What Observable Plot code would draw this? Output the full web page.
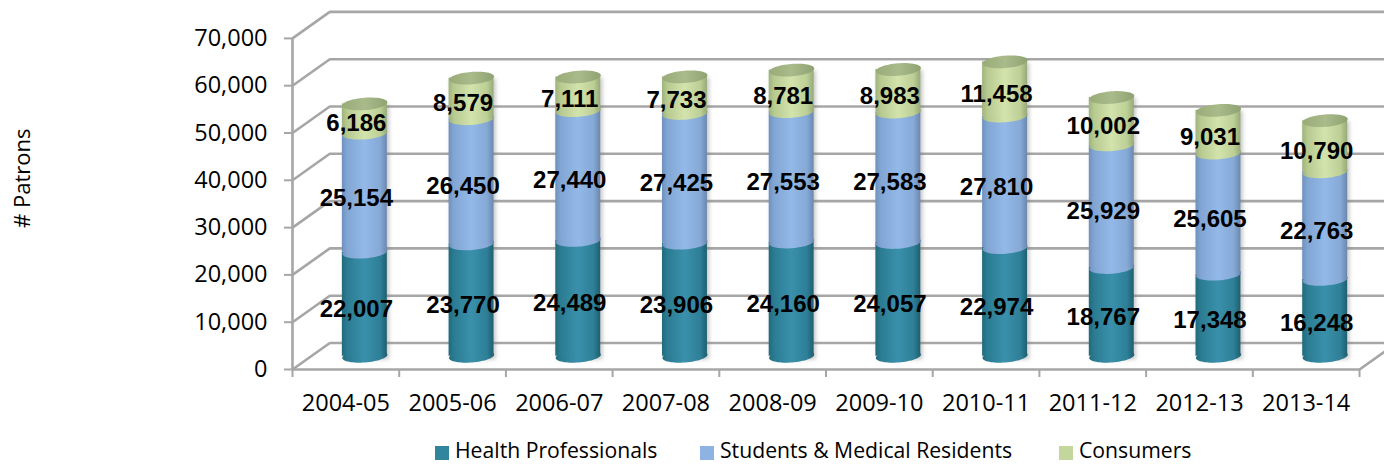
<!DOCTYPE html>
<html>
<head>
<meta charset="utf-8">
<script src="https://cdn.jsdelivr.net/npm/d3@7"></script>
<script src="https://cdn.jsdelivr.net/npm/@observablehq/plot@0.6"></script>
<style>
html,body{margin:0;padding:0;background:#fff;}
#wrap{position:relative;width:1384px;height:464px;overflow:hidden;font-family:"Open Sans",sans-serif;color:#000;}
#wrap svg{display:block;}
.lg{position:absolute;top:435px;height:29px;line-height:29px;font-size:21.2px;white-space:nowrap;}
.sw{position:absolute;top:446px;width:14px;height:14px;}
</style>
</head>
<body>
<div id="wrap"></div>
<script>
const seasons = ["2004-05","2005-06","2006-07","2007-08","2008-09","2009-10","2010-11","2011-12","2012-13","2013-14"];
const health = [22007,23770,24489,23906,24160,24057,22974,18767,17348,16248];
const students = [25154,26450,27440,27425,27553,27583,27810,25929,25605,22763];
const consumers = [6186,8579,7111,7733,8781,8983,11458,10002,9031,10790];
const seriesNames = ["Health Professionals","Students & Medical Residents","Consumers"];
const yTicks = [0,10000,20000,30000,40000,50000,60000,70000];

// 3-D projection expressed in scale units
const depthX = 0.3495, depthY = 5603, xMax = 10.234, yMax = 78013;
const halfW = 0.2105, shiftX = 0.178, shiftY = depthY / 2;
const gradIds = ["gT","gB","gG"];

const rows = seasons.flatMap((s,i) => {
  let base = 0;
  return [health[i],students[i],consumers[i]].map((v,k) => {
    const row = {season:s,i,k,v,y0:base,y1:base+v,cx:i+0.5+shiftX};
    base += v;
    return row;
  });
});
const tops = rows.filter(d => d.k === 2);

const ellipse = {
  draw(ctx){
    const rx=22.6, ry=6.2, a=-4.5*Math.PI/180, n=64;
    for(let t=0;t<=n;t++){
      const u=t/n*2*Math.PI, ex=rx*Math.cos(u), ey=ry*Math.sin(u);
      const X=ex*Math.cos(a)-ey*Math.sin(a), Y=ex*Math.sin(a)+ey*Math.cos(a);
      t?ctx.lineTo(X,Y):ctx.moveTo(X,Y);
    }
    ctx.closePath();
  }
};

function defs(){
  const d = d3.create("svg:defs");
  const mk = (id,stops) => {
    const g = d.append("linearGradient").attr("id",id).attr("x1",0).attr("x2",1).attr("y1",0).attr("y2",0);
    stops.forEach(([o,c]) => g.append("stop").attr("offset",o).attr("stop-color",c));
  };
  mk("gT",[[0,"#216a7c"],[.12,"#2b7c92"],[.5,"#3a90ab"],[.85,"#2e7f97"],[1,"#1e5f70"]]);
  mk("gB",[[0,"#6f90bd"],[.12,"#82a6d4"],[.5,"#93b9e8"],[.85,"#86a9d6"],[1,"#6a88b0"]]);
  mk("gG",[[0,"#a0b37c"],[.12,"#b7ca90"],[.5,"#d3e3ac"],[.85,"#bccf95"],[1,"#97a976"]]);
  mk("gC",[[0,"#98ab78"],[.5,"#a9bb8a"],[1,"#8fa271"]]);
  return d.node();
}

const grey = "#a6a6a6";
const labelFont = {fontFamily:"Liberation Sans",fontWeight:"bold",fontSize:24,fill:"#000"};
const marks = [
  defs,
  // walls
  Plot.ruleY(yTicks,{y:d=>d+depthY,x1:depthX,x2:xMax,stroke:grey,strokeWidth:2.6}),
  Plot.link(yTicks,{x1:0,y1:d=>d,x2:depthX,y2:d=>d+depthY,stroke:grey,strokeWidth:2.6}),
  Plot.ruleX([0],{y1:0,y2:70000,stroke:grey,strokeWidth:2.6}),
  Plot.ruleY([0],{x1:0,x2:10,stroke:grey,strokeWidth:2.6}),
  Plot.link([0],{x1:10,y1:0,x2:10+depthX,y2:depthY,stroke:grey,strokeWidth:2.6}),
  Plot.axisX({anchor:"bottom",ticks:d3.range(0,11),tickSize:8,tickFormat:()=>"",stroke:grey,strokeWidth:2,label:null}),
  Plot.axisY({anchor:"left",ticks:yTicks,tickSize:8,tickPadding:17,tickFormat:d3.format(","),stroke:grey,strokeWidth:2,fill:"#000",fontFamily:"Open Sans",fontSize:23.5,label:null}),
  // soft shadow
  Plot.rect(tops,{x1:d=>d.cx-halfW,x2:d=>d.cx+halfW,y1:shiftY-500,y2:d=>d.y1+shiftY,fill:"#777",fillOpacity:.45,dx:2,dy:1,imageFilter:"blur(2px)"})
];
[0,1,2].forEach(k => {
  const seg = rows.filter(d => d.k === k);
  const fill = `url(#${gradIds[k]})`;
  marks.push(
    Plot.dot(seg,{x:"cx",y:d=>d.y0+shiftY,symbol:ellipse,r:1,fill,stroke:null}),
    Plot.rect(seg,{x1:d=>d.cx-halfW,x2:d=>d.cx+halfW,y1:d=>d.y0+shiftY,y2:d=>d.y1+shiftY,fill})
  );
});
marks.push(
  Plot.dot(tops,{x:"cx",y:d=>d.y1+shiftY,symbol:ellipse,r:1,fill:"url(#gC)",stroke:null}),
  Plot.text(rows,{x:d=>d.i+0.5,y:d=>(d.y0+d.y1)/2,text:d=>d3.format(",")(d.v),dx:10.5,dy:-8,...labelFont}),
  Plot.text(seasons,{x:(d,i)=>i+0.5,y:()=>0,text:d=>d,dy:34,fontFamily:"Open Sans",fontSize:23.5,fill:"#000"}),
  Plot.text(["# Patrons"],{frameAnchor:"left",dx:-270,dy:43,rotate:-90,text:d=>d,fontFamily:"Open Sans",fontSize:22,fill:"#000"})
);

const chart = Plot.plot({
  width:1384,height:437,
  marginLeft:292,marginRight:0,marginTop:0,marginBottom:68,
  x:{type:"linear",domain:[0,xMax],axis:null},
  y:{type:"linear",domain:[0,yMax],axis:null},
  style:{background:"#fff",overflow:"visible"},
  marks
});
const wrap = document.getElementById("wrap");
wrap.appendChild(chart);

const swatches = ["#31859c","#8db3e2","#c3d69b"];
const legendLeft = [435,700,1059];
seriesNames.forEach((n,k) => {
  const s = document.createElement("div");
  s.className="sw"; s.style.left=legendLeft[k]+"px"; s.style.background=swatches[k];
  const t = document.createElement("div");
  t.className="lg"; t.style.left=(legendLeft[k]+20)+"px"; t.textContent=n;
  wrap.append(s,t);
});
</script>
</body>
</html>
